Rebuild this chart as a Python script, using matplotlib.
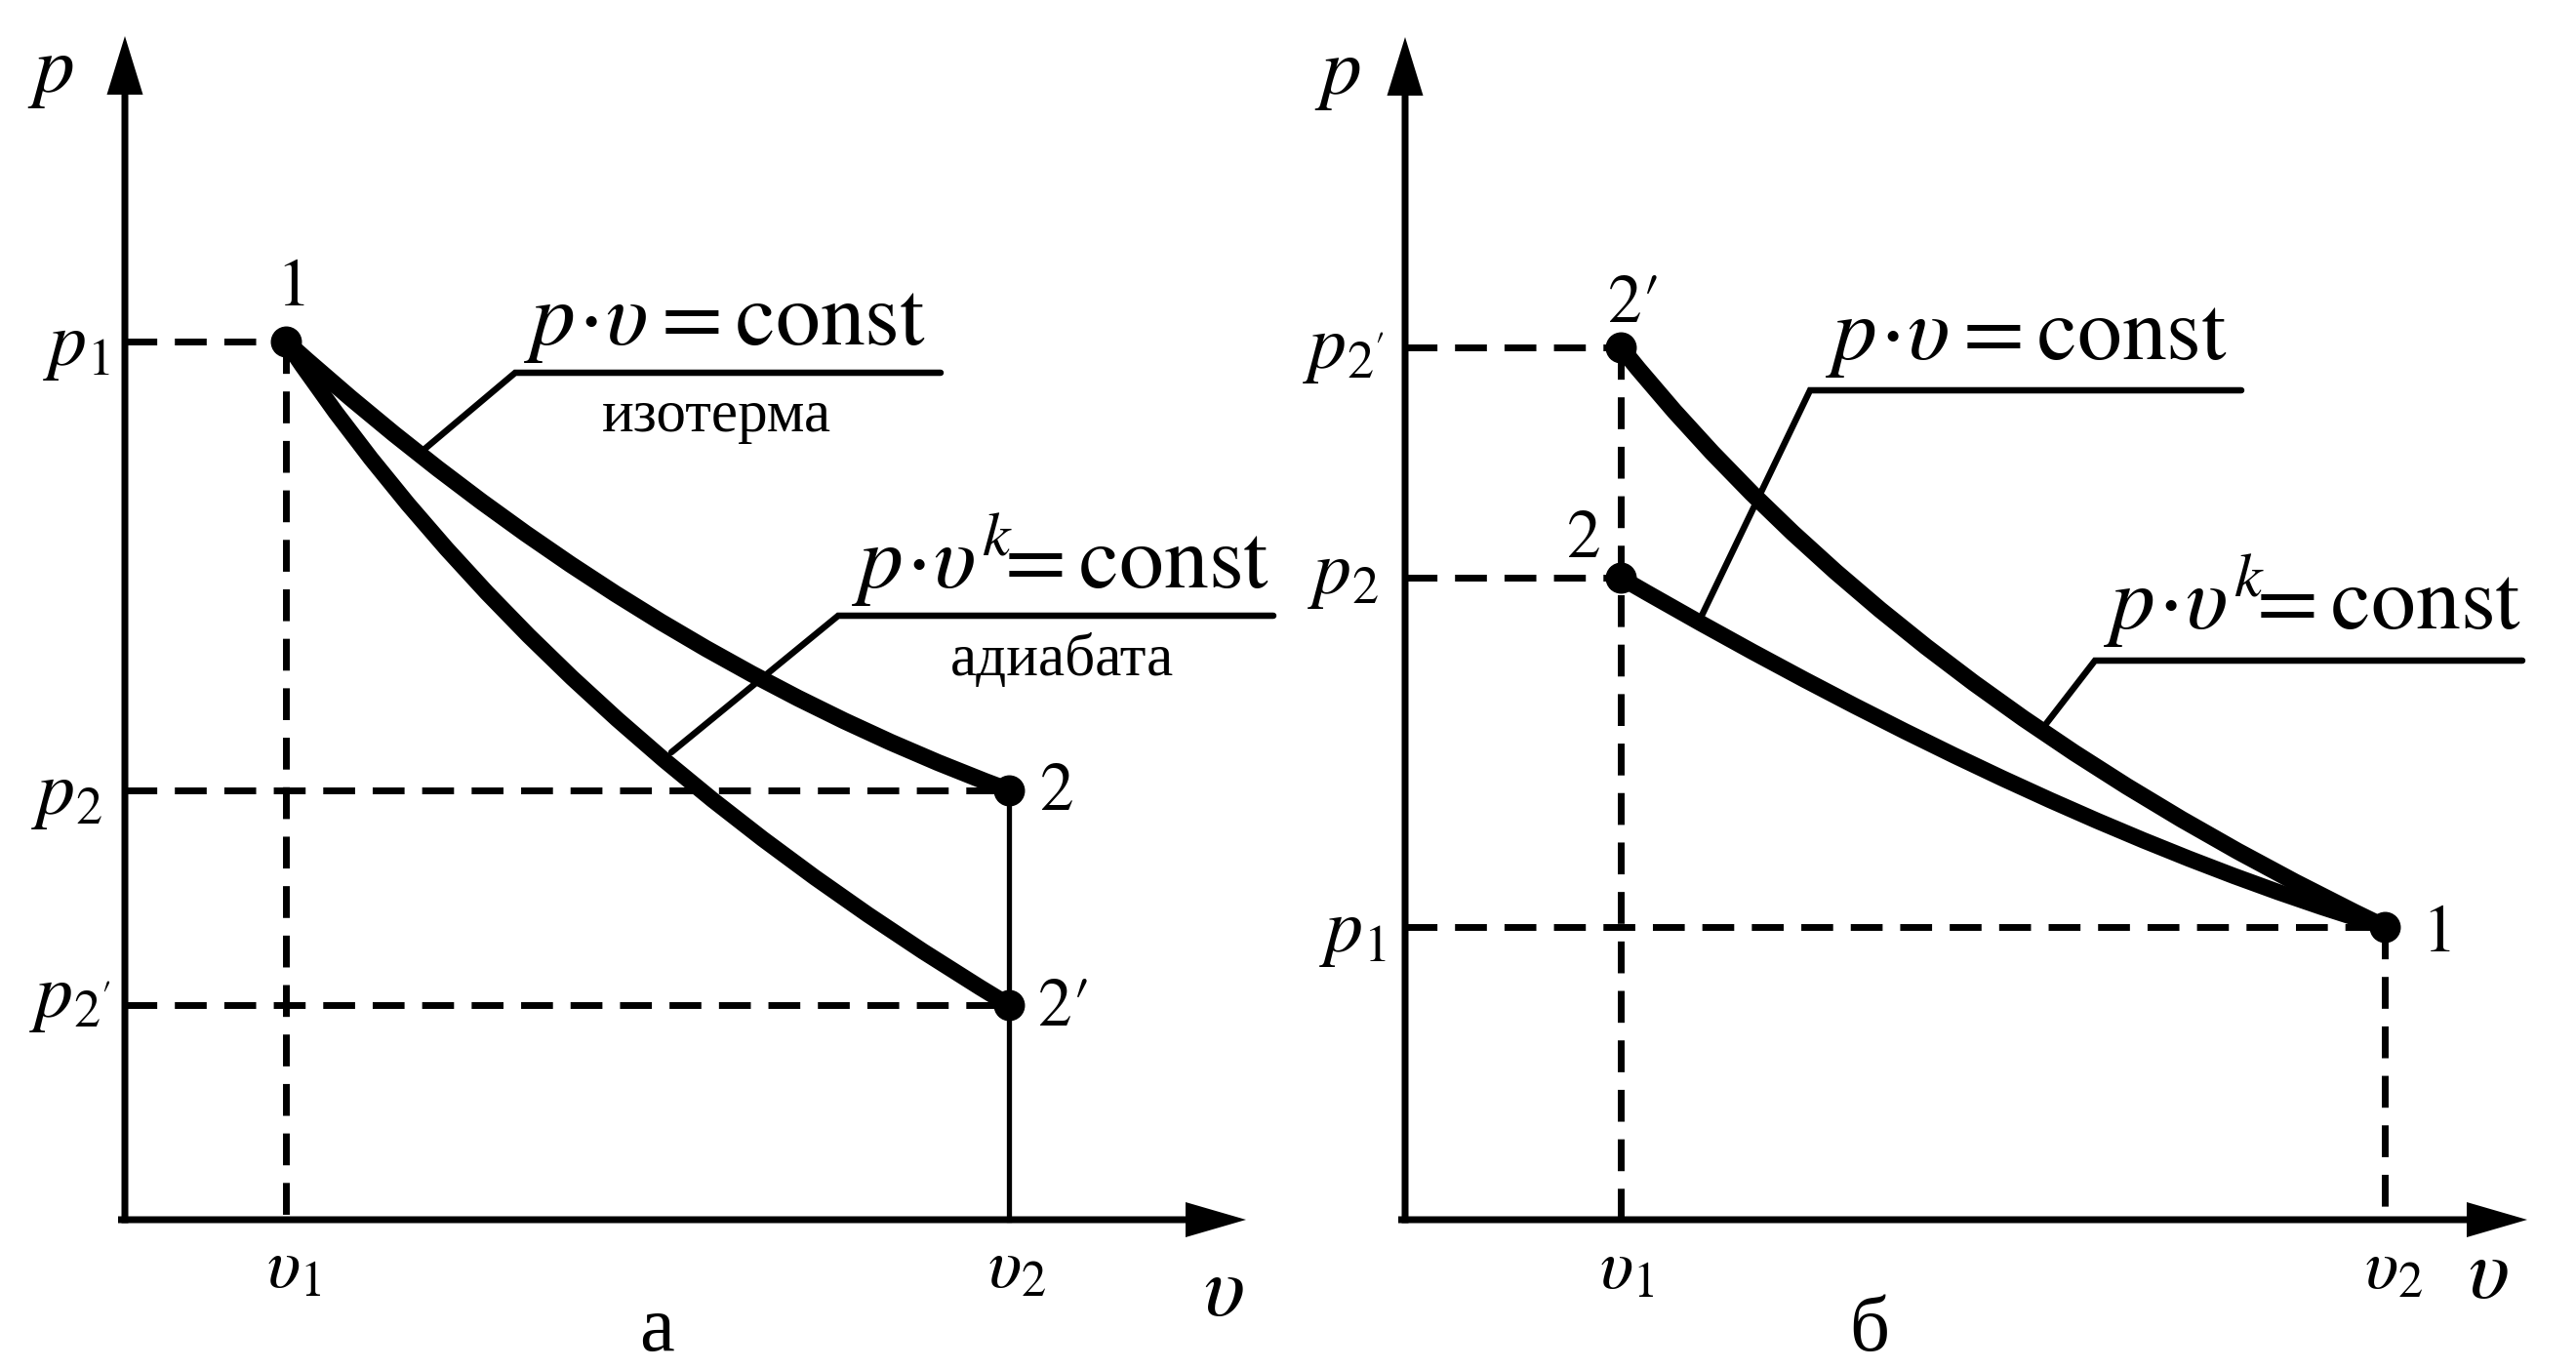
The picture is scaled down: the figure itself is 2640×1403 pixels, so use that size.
import matplotlib.pyplot as plt
from matplotlib.path import Path
from matplotlib.patches import PathPatch

plt.rcParams['mathtext.fontset'] = 'stix'
plt.rcParams['font.family'] = ['STIXGeneral', 'Liberation Serif', 'DejaVu Serif']

# panel a: expansion 1 -> 2 (isotherm) and 1 -> 2' (adiabat)
a_v1, a_v2 = 1.65, 9.06
a_p1, a_p2, a_p2s = 9.00, 4.40, 2.20
# curves as quadratic Bezier: start point, tangent crossing, end point
a_iso = [(1.65, 9.00), (5.16, 5.84), (9.06, 4.40)]
a_adi = [(1.65, 9.00), (4.27, 5.08), (9.06, 2.20)]

# panel б: compression 1 -> 2 (isotherm) and 1 -> 2' (adiabat)
b_v1, b_v2 = 2.21, 10.04
b_p1, b_p2, b_p2s = 3.00, 6.58, 8.94
b_iso = [(2.21, 6.58), (6.61, 4.03), (10.04, 3.00)]
b_adi = [(2.21, 8.94), (5.04, 5.40), (10.04, 3.00)]

PV = r'$p\!\cdot\!\upsilon = \mathrm{const}$'
PVK = r'$p\!\cdot\!\upsilon^{k}\!\!=\mathrm{const}$'
CYR = ['Liberation Serif', 'DejaVu Serif']

DASH = (4.7, 2.6)


def draw_axes(ax, xmax, ymax):
    ax.arrow(-0.07, 0, xmax + 0.07, 0, width=0.07, head_width=0.36,
             head_length=0.62, length_includes_head=True, fc='k', ec='none', zorder=3)
    ax.arrow(0, -0.035, 0, ymax + 0.035, width=0.07, head_width=0.37,
             head_length=0.60, length_includes_head=True, fc='k', ec='none', zorder=3)


def hdash(ax, v, p):
    ax.plot([0, v], [p, p], color='k', lw=5, dashes=DASH, zorder=2)


def vdash(ax, v, p):
    ax.plot([v, v], [p, 0], color='k', lw=5, dashes=DASH, zorder=2)


def curve(ax, pts, lw):
    path = Path(pts, [Path.MOVETO, Path.CURVE3, Path.CURVE3])
    ax.add_patch(PathPatch(path, fill=False, ec='k', lw=lw, capstyle='round', zorder=5))


def leader(ax, pts):
    xs, ys = zip(*pts)
    ax.plot(xs, ys, color='k', lw=4.7, solid_capstyle='round',
            solid_joinstyle='miter', zorder=4)


fig = plt.figure(figsize=(26.4, 14.03), dpi=100)
axA = fig.add_axes([0, 0, 0.5, 1])
axA.set_xlim(-1.28, 11.92)
axA.set_ylim(-1.53, 12.50)
axB = fig.add_axes([0.5, 0, 0.5, 1])
axB.set_xlim(-1.20, 12.00)
axB.set_ylim(-1.53, 12.50)
for ax in (axA, axB):
    ax.axis('off')

# ---------------- panel a ----------------
ax = axA
draw_axes(ax, 11.49, 12.13)
hdash(ax, a_v1, a_p1)
hdash(ax, a_v2, a_p2)
hdash(ax, a_v2, a_p2s)
vdash(ax, a_v1, a_p1)
ax.plot([a_v2, a_v2], [a_p2, 0], color='k', lw=3.8, zorder=2)

curve(ax, a_iso, 12.5)
curve(ax, a_adi, 12)
ax.plot([a_v1, a_v2, a_v2], [a_p1, a_p2, a_p2s], 'o', color='k', ms=22, zorder=6)

leader(ax, [(3.05, 7.88), (4.00, 8.68), (8.36, 8.68)])
leader(ax, [(5.60, 4.79), (7.31, 6.19), (11.77, 6.19)])

ax.text(6.15, 8.97, PV, fontsize=66, ha='center', va='baseline')
ax.text(6.06, 8.08, 'изотерма', fontsize=44, ha='center', va='baseline', family=CYR)
ax.text(9.59, 6.47, PVK, fontsize=66, ha='center', va='baseline')
ax.text(9.61, 5.58, 'адиабата', fontsize=44, ha='center', va='baseline', family=CYR)

ax.text(1.73, 9.37, '1', fontsize=50, ha='center', va='baseline')
ax.text(9.55, 4.20, '2', fontsize=50, ha='center', va='baseline')
ax.text(9.36, 1.99, '2\u2032', fontsize=50, ha='left', va='baseline')

ax.text(-0.76, 11.74, r'$p$', fontsize=60, ha='center', va='center')
ax.text(-0.16, 8.93, r'$p_1$', fontsize=56, ha='right', va='center')
ax.text(-0.23, 4.33, r'$p_2$', fontsize=56, ha='right', va='center')
ax.text(-0.15, 2.25, r"$p_{2'}$", fontsize=56, ha='right', va='center')
ax.text(1.73, -0.20, r'$\upsilon_1$', fontsize=52, ha='center', va='top')
ax.text(9.14, -0.20, r'$\upsilon_2$', fontsize=52, ha='center', va='top')
ax.text(11.26, -0.77, r'$\upsilon$', fontsize=64, ha='center', va='center')
ax.text(5.45, -1.34, 'а', fontsize=58, ha='center', va='baseline', family=CYR)

# ---------------- panel б ----------------
ax = axB
draw_axes(ax, 11.50, 12.12)
hdash(ax, b_v1, b_p2s)
hdash(ax, b_v1, b_p2)
hdash(ax, b_v2, b_p1)
vdash(ax, b_v1, b_p2s)
vdash(ax, b_v2, b_p1)

curve(ax, b_adi, 12.5)
curve(ax, b_iso, 12)
ax.plot([b_v1, b_v1, b_v2], [b_p2s, b_p2, b_p1], 'o', color='k', ms=22, zorder=6)

leader(ax, [(3.03, 6.17), (4.15, 8.50), (8.57, 8.50)])
leader(ax, [(6.56, 5.07), (7.07, 5.73), (11.45, 5.73)])

ax.text(6.37, 8.82, PV, fontsize=66, ha='center', va='baseline')
ax.text(9.30, 6.05, PVK, fontsize=66, ha='center', va='baseline')

ax.text(2.08, 9.20, '2\u2032', fontsize=50, ha='left', va='baseline')
ax.text(1.83, 6.79, '2', fontsize=50, ha='center', va='baseline')
ax.text(10.60, 2.75, '1', fontsize=50, ha='center', va='baseline')

ax.text(-0.69, 11.72, r'$p$', fontsize=60, ha='center', va='center')
ax.text(-0.22, 8.90, r"$p_{2'}$", fontsize=56, ha='right', va='center')
ax.text(-0.27, 6.59, r'$p_2$', fontsize=56, ha='right', va='center')
ax.text(-0.20, 2.92, r'$p_1$', fontsize=56, ha='right', va='center')
ax.text(2.27, -0.21, r'$\upsilon_1$', fontsize=52, ha='center', va='top')
ax.text(10.13, -0.21, r'$\upsilon_2$', fontsize=52, ha='center', va='top')
ax.text(11.10, -0.59, r'$\upsilon$', fontsize=64, ha='center', va='center')
ax.text(4.76, -1.34, 'б', fontsize=58, ha='center', va='baseline', family=CYR)

fig.savefig('out.png', dpi=100, facecolor='white')
